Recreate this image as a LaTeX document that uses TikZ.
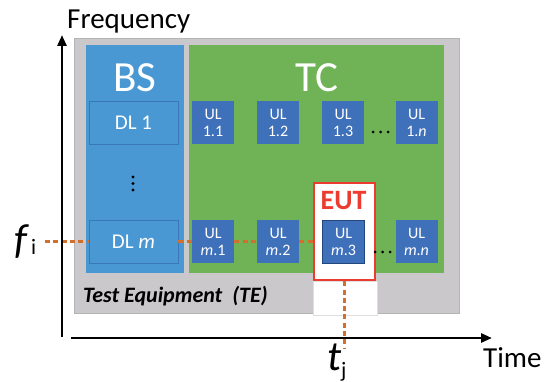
\documentclass[tikz,border=0pt]{standalone}
\usepackage{fontspec}
\setmainfont{Carlito}
\usetikzlibrary{arrows.meta}
\definecolor{tegray}{HTML}{CAC8CB}
\definecolor{teborder}{HTML}{B4B3B5}
\definecolor{bsblue}{HTML}{4A98D3}
\definecolor{dlborder}{HTML}{3A77B6}
\definecolor{tcgreen}{HTML}{70B356}
\definecolor{ulblue}{HTML}{3F70BA}
\definecolor{ulborder}{HTML}{23467F}
\definecolor{eutred}{HTML}{EC3B2F}
\definecolor{dotorange}{HTML}{D0702C}
\begin{document}
\begin{tikzpicture}[x=1pt,y=-1pt,
  area/.style={rectangle, inner sep=0pt},
  ulbox/.style={rectangle, fill=ulblue, text=white, inner sep=0pt,
    minimum width=42pt, minimum height=43pt, align=center,
    font=\fontsize{16}{17}\selectfont},
  dlbox/.style={rectangle, fill=bsblue, draw=dlborder, line width=0.8pt,
    text=white, inner sep=0pt, minimum width=89pt, minimum height=43pt,
    font=\fontsize{21}{24}\selectfont},
  trace/.style={dotorange, line width=3pt, dash pattern=on 5pt off 3.3pt},
  axis/.style={line width=2.7pt, -{Triangle[length=11pt,width=9pt]}},
  bigtitle/.style={text=white, inner sep=0pt, anchor=base,
    font=\fontsize{43}{44}\selectfont},
  dot/.style={fill=black}]
\useasboundingbox (0,0) rectangle (551,382);

% areas
\node[area, fill=tegray, draw=teborder, line width=0.7pt,
  minimum width=385pt, minimum height=275pt] (te) at (266.5,175.5) {};
\node[area, fill=bsblue, minimum width=98pt, minimum height=228pt] (bs) at (135,159) {};
\node[area, fill=tcgreen, minimum width=255pt, minimum height=228pt] (tc) at (316.5,159) {};
\node[bigtitle] (bslabel) at (135,92) {BS};
\node[bigtitle] (tclabel) at (316.5,92) {TC};

% white gap below EUT
\node[area, fill=white, draw=gray!25, line width=0.6pt,
  minimum width=64pt, minimum height=34pt] (gap) at (345,298) {};
% EUT box
\node[area, fill=white, draw=eutred, line width=2.5pt,
  minimum width=61pt, minimum height=97pt] (eut) at (344.5,231.5) {};
\node[anchor=base, inner sep=0pt, text=eutred,
  font=\fontsize{28}{28}\selectfont\bfseries] (eutlabel) at (343.5,209) {EUT};

% DL boxes
\node[dlbox] (dl1) at (133.5,122.5) {DL 1};
\node[dlbox] (dlm) at (133.5,241.5) {DL \textit{m}};

% UL boxes row 1
\node[ulbox] (ul11) at (213,122.5) {UL\\1.1};
\node[ulbox] (ul12) at (278,122.5) {UL\\1.2};
\node[ulbox] (ul13) at (343,122.5) {UL\\1.3};
\node[ulbox] (ul1n) at (416.5,122.5) {UL\\1.\textit{n}};
% UL boxes row m
\node[ulbox] (ulm1) at (213,241.5) {UL\\\textit{m}.1};
\node[ulbox] (ulm2) at (278,241.5) {UL\\\textit{m}.2};
\node[ulbox, draw=ulborder, line width=1pt] (ulm3) at (343.5,242) {UL\\\textit{m}.3};
\node[ulbox] (ulmn) at (416.5,241.5) {UL\\\textit{m}.\textit{n}};

% dots
\fill[dot] (133,177) circle (1.6pt);
\fill[dot] (133,183.5) circle (1.6pt);
\fill[dot] (133,190) circle (1.6pt);
\fill[dot] (373,132) circle (1.5pt);
\fill[dot] (380.5,132) circle (1.5pt);
\fill[dot] (388,132) circle (1.5pt);
\fill[dot] (375,252) circle (1.5pt);
\fill[dot] (382.5,252) circle (1.5pt);
\fill[dot] (390,252) circle (1.5pt);

% frequency trace
\coordinate (fstart) at (45,241.5);
\draw[trace] (fstart) -- (dlm.west);
\draw[trace] (dlm.east) -- (ulm1.west);
\draw[trace] (ulm1.east) -- (ulm2.west);
\draw[trace] (ulm2.east) -- (ulm2.east -| eut.west);

% labels
\node[anchor=base west, inner sep=0pt,
  font=\fontsize{22}{24}\selectfont\bfseries\itshape] (telabel) at (83,302) {Test Equipment\ \ (TE)};

% axes
\coordinate (yfoot) at (62,337);
\coordinate (ytop) at (62,35);
\coordinate (xfoot) at (71,338);
\coordinate (xend) at (492,338);
\draw[axis] (yfoot) -- (ytop);
\draw[axis] (xfoot) -- (xend);

% time trace
\coordinate (tend) at (344.5,348);
\draw[trace] (eut.south) -- (tend);

\node[anchor=base west, inner sep=0pt, font=\fontsize{29}{30}\selectfont] (freq) at (67,29) {Frequency};
\node[anchor=base west, inner sep=0pt, font=\fontsize{29}{30}\selectfont] (time) at (483,367) {Time};
\node[anchor=base west, inner sep=0pt, font=\fontsize{42}{42}\selectfont\itshape] (flabel) at (14,253) {f};
\node[anchor=base west, inner sep=0pt, font=\fontsize{22}{22}\selectfont] (fsub) at (31,254) {i};
\node[anchor=base west, inner sep=0pt, font=\fontsize{42}{42}\selectfont\itshape] (tlabel) at (327,370) {t};
\node[anchor=base west, inner sep=0pt, font=\fontsize{22}{22}\selectfont] (tsub) at (341,377) {j};
\end{tikzpicture}
\end{document}
